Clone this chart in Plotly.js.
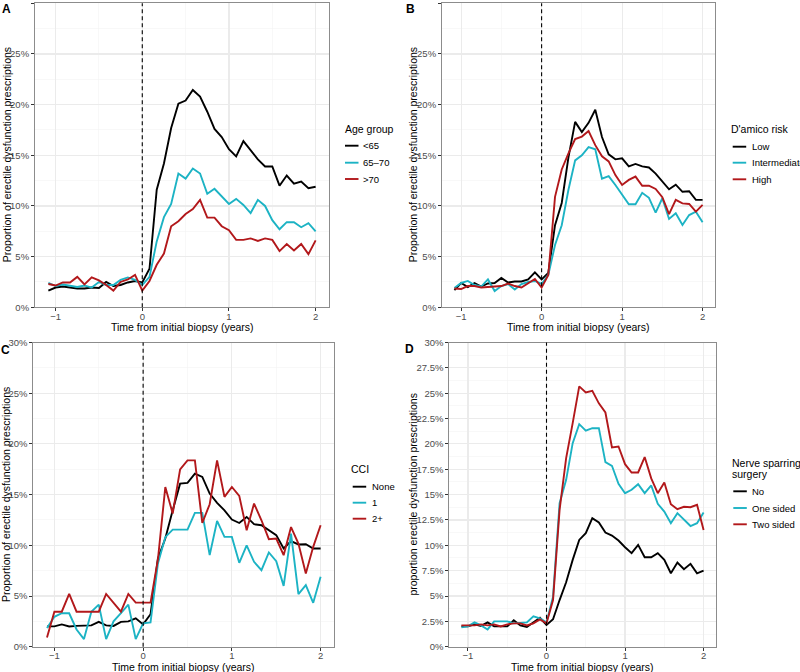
<!DOCTYPE html>
<html>
<head>
<meta charset="utf-8">
<script src="https://cdn.plot.ly/plotly-3.0.1.min.js"></script>
<style>html,body{margin:0;padding:0;background:#fff;}#chart{width:800px;height:672px;}</style>
</head>
<body>
<div id="chart"></div>
<script>
// Months relative to initial biopsy (monthly points, -13 .. 24)
const months = [-13,-12,-11,-10,-9,-8,-7,-6,-5,-4,-3,-2,-1,0,1,2,3,4,5,6,7,8,9,10,11,12,13,14,15,16,17,18,19,20,21,22,23,24];
const years = months.map(m => m / 12);

// Panel A: Age group (values in %)
const ageTitle = "Age group";
const ageLabels = ["<65", "65\u201370", ">70"];
const ageLt65 = [1.65,1.95,2.05,1.95,1.85,1.85,1.95,1.9,2.5,2.1,2.2,2.45,2.6,2.45, 3.8,11.6,14.2,17.7,20.1,20.4,21.45,20.8,19.3,17.6,16.8,15.6,14.9,16.4,15.5,14.6,13.9,13.9,12.0,13.0,12.2,12.4,11.75,11.9];
const age6570 = [2.4,2.1,2.25,2.15,2.0,2.15,1.95,2.5,2.2,2.2,2.7,2.95,2.7,2.2, 3.0,6.5,8.9,10.2,13.2,12.7,13.7,13.2,11.2,11.7,10.9,10.2,10.7,10.1,9.3,10.6,10.0,8.6,7.7,8.4,8.4,7.9,8.3,7.5];
const ageGt70 = [2.3,2.15,2.45,2.45,3.0,2.25,2.95,2.65,2.2,1.65,2.5,2.75,3.2,1.65, 2.6,4.2,5.3,8.0,8.5,9.2,9.7,10.6,8.85,8.85,8.0,7.6,6.65,6.65,6.8,6.55,6.8,6.65,5.55,6.25,5.6,6.25,5.25,6.6];

// Panel B: D'amico risk
const riskTitle = "D'amico risk";
const riskLabels = ["Low", "Intermediate", "High"];
const riskLow = [1.7,2.4,2.0,2.4,2.05,2.35,2.4,2.9,2.45,2.55,2.55,2.75,3.45,2.75, 3.4,8.1,10.3,14.8,18.3,17.3,18.2,19.5,16.8,15.1,14.6,14.7,13.9,14.15,13.9,13.8,13.2,12.4,11.65,12.1,11.4,11.45,10.6,10.6];
const riskInt = [1.9,2.4,2.6,2.2,2.05,2.75,1.6,2.1,2.3,1.75,2.3,2.5,2.6,2.3, 3.2,6.15,8.1,11.6,14.5,15.0,15.8,15.6,12.7,12.95,12.07,11.1,10.17,10.17,11.3,10.8,9.34,10.76,8.72,9.28,8.12,9.1,9.44,8.4];
const riskHigh = [1.85,1.8,2.1,2.1,1.95,2.0,2.0,2.1,2.35,2.1,1.95,2.35,2.8,1.95, 3.2,10.9,13.6,15.2,16.6,16.85,17.4,16.0,14.9,14.4,13.05,12.07,12.57,12.9,12.0,12.0,11.68,10.86,9.2,10.6,10.26,10.2,9.44,10.1];

// Panel C: CCI
const cciTitle = "CCI";
const cciLabels = ["None", "1", "2+"];
const cciNone = [2.0,2.0,2.2,2.0,2.05,2.1,2.1,2.45,2.1,2.05,2.45,2.5,2.8,2.2, 3.2,8.7,10.67,13.45,16.08,16.15,17.06,16.74,15.1,14.18,13.45,12.54,12.2,12.8,12.08,11.98,11.49,11.0,9.68,10.4,10.08,10.1,9.68,9.68];
const cciOne = [1.85,2.95,3.3,3.3,1.7,0.75,3.45,4.15,0.75,2.5,3.3,4.15,0.75,2.3, 2.4,8.2,10.8,11.55,11.55,11.55,13.2,13.2,9.03,12.4,10.83,10.83,8.27,10.0,8.37,7.55,9.29,8.44,6.0,11.16,5.19,6.07,4.33,6.9];
const cciTwo = [0.9,3.45,3.45,5.2,3.45,3.45,3.45,3.45,5.2,4.35,3.45,5.2,4.35,4.35, 4.35,8.6,15.75,13.13,17.49,18.38,18.38,12.2,14.05,18.38,14.77,15.75,14.87,11.49,14.11,12.47,10.6,10.67,9.03,11.8,10.17,7.22,9.85,11.98];

// Panel D: Nerve sparring surgery
const nerveTitle = ["Nerve sparring", "surgery"];
const nerveLabels = ["No", "One sided", "Two sided"];
const nerveNo = [2.0,2.0,2.2,2.05,2.4,2.0,2.0,2.0,2.6,2.1,1.95,2.4,2.85,2.15, 2.7,4.6,6.36,8.56,10.53,11.2,12.67,12.25,11.26,10.96,10.47,9.81,9.22,10.04,8.82,8.82,9.22,8.56,7.24,8.3,7.64,8.17,7.24,7.5];
const nerveOne = [1.9,2.0,2.4,2.1,1.7,2.5,2.5,2.5,2.3,2.35,2.4,3.0,2.8,2.4, 4.94,14.15,16.46,20.07,21.95,21.3,21.55,21.55,18.2,17.84,16.06,15.14,15.47,16.03,15.14,15.9,14.09,13.33,12.18,13.17,12.5,11.9,12.18,13.23];
const nerveTwo = [2.1,2.1,2.1,2.2,2.1,2.2,2.0,2.2,2.3,2.3,2.1,2.3,2.7,2.3, 4.6,13.5,18.6,22.05,25.67,25.07,25.24,24.0,23.1,19.65,19.75,18.0,17.18,17.18,18.7,16.6,15.14,16.2,14.05,13.56,13.8,13.76,14.0,11.5];

// Tick labels and axis titles
const xTicks = [-1, 0, 1, 2];
const yTicksA = [0, 5, 10, 15, 20, 25, 30];
const yTickTextA = ["0%", "5%", "10%", "15%", "20%", "25%", "30%"];
const yTicksD = [0, 2.5, 5, 7.5, 10, 12.5, 15, 17.5, 20, 22.5, 25, 27.5, 30];
const yTickTextD = ["0%", "2.5%", "5%", "7.5%", "10%", "12.5%", "15%", "17.5%", "20%", "22.5%", "25%", "27.5%", "30%"];
const X_TITLE = "Time from initial biopsy (years)";
const Y_TITLE = "Proportion of erectile dysfunction prescriptions";
const Y_TITLE_D = "proportion erectile dysfunction prescriptions";

const colors = ["#000000", "#1CB3C4", "#B2181B"];
const FONT = "Liberation Sans, Arial, sans-serif";
const LW = 1.9;
const W = 800, H = 672;

const panels = [
  {series: [ageLt65, age6570, ageGt70], names: ageLabels, xa: "x", ya: "y"},
  {series: [riskLow, riskInt, riskHigh], names: riskLabels, xa: "x2", ya: "y2"},
  {series: [cciNone, cciOne, cciTwo], names: cciLabels, xa: "x3", ya: "y3"},
  {series: [nerveNo, nerveOne, nerveTwo], names: nerveLabels, xa: "x4", ya: "y4"}
];

const traces = [];
panels.forEach(p => {
  p.series.forEach((s, i) => {
    traces.push({
      type: "scatter", mode: "lines", x: years, y: s, name: p.names[i],
      xaxis: p.xa, yaxis: p.ya, showlegend: false,
      line: {color: colors[i], width: LW}
    });
  });
});

function xAxis(domain, anchor) {
  return {
    domain: domain, anchor: anchor, range: [-1.2375, 2.1542],
    tickmode: "array", tickvals: xTicks,
    ticks: "outside", ticklen: 3, tickcolor: "#333333", tickwidth: 1,
    ticklabelstandoff: -3,
    tickfont: {family: FONT, size: 9.5, color: "#4D4D4D"},
    showgrid: true, gridcolor: "#EBEBEB", gridwidth: 1.1,
    minor: {tickmode: "linear", tick0: -0.5, dtick: 1, showgrid: true, gridcolor: "#F3F3F3", gridwidth: 0.6},
    showline: true, mirror: true, linecolor: "#8C8C8C", linewidth: 1,
    zeroline: false, automargin: false
  };
}
function yAxis(domain, anchor, isD) {
  const a = {
    domain: domain, anchor: anchor, range: [0, 30],
    ticks: "outside", ticklen: 3, tickcolor: "#333333", tickwidth: 1,
    tickfont: {family: FONT, size: 9.5, color: "#4D4D4D"},
    showgrid: true, gridcolor: "#EBEBEB", gridwidth: 1.1,
    showline: true, mirror: true, linecolor: "#8C8C8C", linewidth: 1,
    zeroline: false, automargin: false, tickmode: "array"
  };
  if (isD) {
    a.tickvals = yTicksD; a.ticktext = yTickTextD;
    a.minor = {tickmode: "linear", tick0: 1.25, dtick: 2.5, showgrid: true, gridcolor: "#F3F3F3", gridwidth: 0.6};
  } else {
    a.tickvals = yTicksA; a.ticktext = yTickTextA;
    a.minor = {tickmode: "linear", tick0: 2.5, dtick: 5, showgrid: true, gridcolor: "#F3F3F3", gridwidth: 0.6};
  }
  return a;
}

const yTop = [1 - 307.3/H, 1 - 3.3/H];
const yBot = [1 - 646.7/H, 1 - 342.5/H];

const shapes = [];
const annotations = [];

function vline(xr, yr) {
  shapes.push({type: "line", xref: xr, yref: yr + " domain", x0: 0, x1: 0, y0: 0, y1: 1,
    line: {color: "#000", width: 1.1, dash: "4px,3px"}, layer: "above"});
}
function text(t, px, py, opts) {
  annotations.push(Object.assign({text: t, xref: "paper", yref: "paper", x: px / W, y: 1 - py / H,
    xanchor: "left", yanchor: "middle", showarrow: false, borderpad: 0, borderwidth: 0,
    font: {family: FONT, size: 10.5, color: "#000"}}, opts || {}));
}
// Legend: title lines, key lines (from series colours) and labels
function legend(titleLines, names, tx, ty, lx, ys, textX) {
  titleLines.forEach((t, i) => text(t, tx, ty + i * 11.6, {font: {family: FONT, size: 10.5, color: "#000"}}));
  names.forEach((n, i) => {
    shapes.push({type: "line", xref: "paper", yref: "paper", x0: lx / W, x1: (lx + 13.5) / W,
      y0: 1 - ys[i] / H, y1: 1 - ys[i] / H, line: {color: colors[i], width: LW}});
    text(n, textX, ys[i], {font: {family: FONT, size: 9.5, color: "#000"}});
  });
}

["x", "x2", "x3", "x4"].forEach((x, i) => vline(x, "y" + (i ? i + 1 : "")));

// Panel letters
const letterFont = {family: FONT, size: 12, color: "#000"};
text("<b>A</b>", 2, 9, {font: letterFont});
text("<b>B</b>", 406, 9, {font: letterFont});
text("<b>C</b>", 1, 350, {font: letterFont});
text("<b>D</b>", 405, 348.5, {font: letterFont});

// Axis titles
[[182, 327], [578.5, 327], [183.8, 666.5], [582.5, 666.5]].forEach(p =>
  text(X_TITLE, p[0], p[1], {xanchor: "center"}));
[[7, 155.3, Y_TITLE], [413, 155.3, Y_TITLE], [5.5, 494.6, Y_TITLE], [413, 494.6, Y_TITLE_D]].forEach(p =>
  text(p[2], p[0], p[1], {xanchor: "center", textangle: -90}));

// Legends
legend([ageTitle], ageLabels, 344.5, 129.3, 345, [145.7, 162.7, 179], 362.5);
legend([riskTitle], riskLabels, 731.2, 129.3, 732.7, [146.7, 162.7, 179.3], 752.2);
legend([cciTitle], cciLabels, 351.2, 468.7, 352.7, [486.7, 502.7, 518.7], 371.8);
legend(nerveTitle, nerveLabels, 731.8, 462.7, 733.3, [491.3, 508, 524.3], 752.2);

const layout = {
  width: W, height: H,
  margin: {l: 0, r: 0, t: 0, b: 0, autoexpand: false},
  paper_bgcolor: "#fff", plot_bgcolor: "#fff",
  font: {family: FONT},
  showlegend: false,
  xaxis: xAxis([35/W, 329/W], "y"),
  yaxis: yAxis(yTop, "x", false),
  xaxis2: xAxis([442/W, 715/W], "y2"),
  yaxis2: yAxis(yTop, "x2", false),
  xaxis3: xAxis([33.3/W, 334.3/W], "y3"),
  yaxis3: yAxis(yBot, "x3", false),
  xaxis4: xAxis([449.3/W, 715.7/W], "y4"),
  yaxis4: yAxis(yBot, "x4", true),
  shapes: shapes,
  annotations: annotations
};

Plotly.newPlot("chart", traces, layout, {staticPlot: true, displayModeBar: false});
</script>
</body>
</html>
